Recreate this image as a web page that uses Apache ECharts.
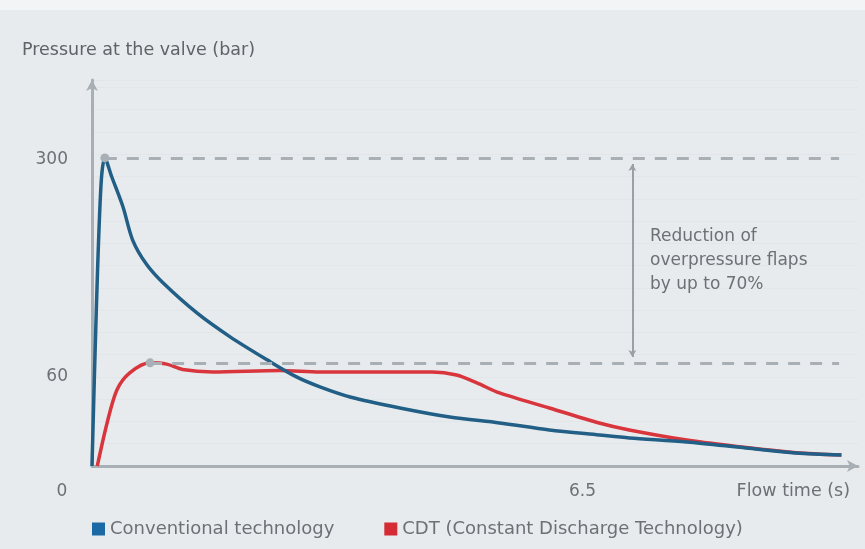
<!DOCTYPE html>
<html>
<head>
<meta charset="utf-8">
<title>Pressure at the valve</title>
<script src="https://cdn.jsdelivr.net/npm/echarts@6/dist/echarts.min.js"></script>
<style>
html, body { margin: 0; padding: 0; background: #e8ebed; }
#chart { width: 865px; height: 549px; }
</style>
</head>
<body>
<div id="chart"></div>
<script>
// time in s, pressure in the drawing's own (schematic) units
const convTime = [0, 0.06, 0.12, 0.17, 0.26, 0.41, 0.54, 0.72, 0.94, 1.39, 1.83, 2.32, 2.71, 3.02, 3.42, 4.08, 4.74, 5.40, 6.06, 6.72, 7.12, 7.88, 8.67, 9.33, 9.93];
const convVal = [0, 110, 190, 207.5, 195, 174.6, 152, 136, 123.4, 103.1, 87.0, 71.5, 60.0, 53.3, 46.5, 39.1, 33.0, 29.0, 24.3, 20.9, 18.9, 16.2, 12.1, 8.8, 7.4];
const cdtTime = [0.07, 0.2, 0.33, 0.5, 0.77, 0.99, 1.2, 1.6, 2.49, 3.02, 4.51, 4.83, 5.1, 5.4, 6.06, 6.72, 7.12, 7.88, 8.67, 9.33, 9.93];
const cdtVal = [0, 29, 51.2, 62.7, 69.5, 68.6, 65, 63.4, 64.4, 63.4, 63.4, 61.3, 56.0, 49.2, 39.1, 29.0, 24.3, 17.5, 12.4, 9.0, 7.4];

const yTickPos = [60, 206.3];
const yTickText = ['60', '300'];
const xTickPos = [0, 6.5];
const xTickText = ['0', '6.5'];

const seriesNames = ['Conventional technology', 'CDT (Constant Discharge Technology)'];
const arrowTime = 7.16;   // position of the "reduction" arrow
const dashEnd = 9.9;

const zip = (a, b) => a.map((t, i) => [t, b[i]]);
const convData = zip(convTime, convVal);
const cdtData = zip(cdtTime, cdtVal);

const convPeak = Math.max(...convVal);
const cdtPeak = Math.max(...cdtVal);
const convPeakT = convTime[convVal.indexOf(convPeak)];
const cdtPeakT = cdtTime[cdtVal.indexOf(cdtPeak)];

const gray = '#a9b0b5';
const textGray = '#6b7175';
const font = '"DejaVu Sans", "Noto Sans", sans-serif';

const chart = echarts.init(document.getElementById('chart'));
chart.setOption({
  backgroundColor: '#e8ebed',
  animation: false,
  textStyle: { fontFamily: font },
  title: {
    text: 'Pressure at the valve (bar)',
    left: 17,
    top: 36,
    textStyle: { fontFamily: font, fontSize: 17.5, fontWeight: 'normal', color: '#5d6367' }
  },
  graphic: [
    {
      type: 'rect',
      left: 0, top: 0,
      shape: { width: 865, height: 10 },
      style: { fill: '#f2f4f5' },
      silent: true
    },
    {
      type: 'text',
      left: 650,
      top: 225,
      z: 100,
      style: {
        text: 'Reduction of\noverpressure flaps\nby up to 70%',
        font: '17px ' + font,
        lineHeight: 24,
        fill: textGray
      }
    }
  ],
  legend: {
    left: 87,
    top: 515,
    icon: 'rect',
    itemWidth: 13,
    itemHeight: 13,
    itemGap: 50,
    textStyle: { fontFamily: font, fontSize: 18, color: textGray },
    data: seriesNames
  },
  grid: { left: 92, right: 7, top: 80, bottom: 83, containLabel: false },
  xAxis: {
    type: 'value',
    min: 0,
    max: 10.15,
    name: 'Flow time (s)',
    nameLocation: 'end',
    nameGap: -8,
    nameTextStyle: {
      fontFamily: font, fontSize: 17.5, color: textGray,
      align: 'right', verticalAlign: 'top', padding: [16, 0, 0, 0]
    },
    axisLine: {
      show: true,
      lineStyle: { color: gray, width: 3 },
      symbol: ['none', 'arrow'],
      symbolSize: [9, 11]
    },
    axisTick: { show: false },
    splitLine: { show: false },
    axisLabel: {
      customValues: xTickPos,
      margin: 17,
      fontSize: 17,
      color: textGray,
      formatter: v => {
        const s = xTickText[xTickPos.indexOf(v)];
        return v === 0 ? '{z|' + s + '}' : s;
      },
      rich: { z: { padding: [0, 60, 0, 0], fontSize: 17, color: textGray } }
    }
  },
  yAxis: {
    type: 'value',
    min: 0,
    max: 260,
    interval: 15,
    axisLine: {
      show: true,
      lineStyle: { color: gray, width: 3 },
      symbol: ['none', 'arrow'],
      symbolSize: [9, 11]
    },
    axisTick: { show: false },
    splitLine: {
      show: true,
      lineStyle: { color: '#e2e6e9', width: 1 }
    },
    axisLabel: {
      customValues: yTickPos,
      margin: 24,
      fontSize: 17,
      color: textGray,
      formatter: v => yTickText[yTickPos.indexOf(v)] || ''
    }
  },
  series: [
    {
      name: seriesNames[1],
      type: 'line',
      data: cdtData,
      smooth: 0.3,
      showSymbol: false,
      color: '#d52b35',
      lineStyle: { color: '#d8353d', width: 3.5 },
      z: 3,
      markLine: {
        silent: true,
        symbol: ['none', 'none'],
        label: { show: false },
        data: [
          [
            { coord: [cdtPeakT, cdtPeak], symbol: 'circle', symbolSize: 9, lineStyle: { color: gray, width: 3, type: [12, 10] } },
            { coord: [dashEnd, cdtPeak], symbol: 'none' }
          ],
          [
            { coord: [arrowTime, convPeak - 4], symbol: 'arrow', symbolSize: [6, 7], lineStyle: { color: '#9aa1a6', width: 2, type: 'solid' } },
            { coord: [arrowTime, cdtPeak + 4], symbol: 'arrow', symbolSize: [6, 7] }
          ]
        ]
      }
    },
    {
      name: seriesNames[0],
      type: 'line',
      data: convData,
      smooth: 0.3,
      showSymbol: false,
      color: '#1b6aa5',
      lineStyle: { color: '#215f86', width: 3.5 },
      z: 4,
      markLine: {
        silent: true,
        symbol: ['none', 'none'],
        label: { show: false },
        data: [
          [
            { coord: [convPeakT, convPeak], symbol: 'circle', symbolSize: 9, lineStyle: { color: gray, width: 3, type: [12, 10] } },
            { coord: [dashEnd, convPeak], symbol: 'none' }
          ]
        ]
      }
    }
  ]
});
</script>
</body>
</html>
